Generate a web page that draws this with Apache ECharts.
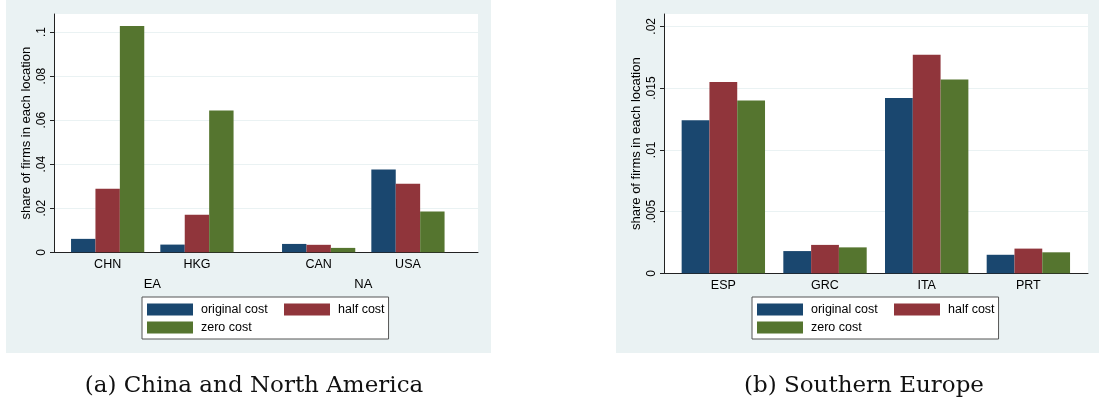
<!DOCTYPE html>
<html>
<head>
<meta charset="utf-8">
<script src="https://cdn.jsdelivr.net/npm/echarts@6/dist/echarts.min.js"></script>
<style>
  html, body { margin: 0; padding: 0; background: #fff; }
  #container { width: 1099px; height: 403px; }
</style>
</head>
<body>
<div id="container"></div>
<script>
// panel (a): East Asia + North America
let eaCats = ['CHN', 'HKG'];
let naCats = ['CAN', 'USA'];
let eaOriginal = [0.0061, 0.0035];
let eaHalf = [0.0288, 0.0171];
let eaZero = [0.1028, 0.0644];
let naOriginal = [0.0038, 0.0376];
let naHalf = [0.0034, 0.0311];
let naZero = [0.0020, 0.0185];
let leftTicks = [0, 0.02, 0.04, 0.06, 0.08, 0.1];

// panel (b): Southern Europe
let seCats = ['ESP', 'GRC', 'ITA', 'PRT'];
let seOriginal = [0.0124, 0.0018, 0.0142, 0.0015];
let seHalf = [0.0155, 0.0023, 0.0177, 0.0020];
let seZero = [0.0140, 0.0021, 0.0157, 0.0017];
let rightTicks = [0, 0.005, 0.01, 0.015, 0.02];

let seriesNames = ['original cost', 'half cost', 'zero cost'];
let colors = ['#1a476f', '#90353b', '#55752f'];

let FONT = 'Liberation Sans, Arial, sans-serif';
let BG = '#eaf2f3';

function tickText(v) {
    return v === 0 ? '0' : String(v).replace(/^0/, '');
}

// frame: white plot area, y axis, gridlines, x axis line
function frameAxes(gridIndex, max, ticks) {
    let x = {
        type: 'category', gridIndex: gridIndex, data: [''],
        axisLine: { show: true, lineStyle: { color: '#222', width: 1 } },
        axisTick: { show: false }, axisLabel: { show: false }, splitLine: { show: false }
    };
    let y = {
        type: 'value', gridIndex: gridIndex, min: 0, max: max,
        name: 'share of firms in each location',
        nameLocation: 'middle', nameGap: 21,
        nameTextStyle: { fontFamily: FONT, fontSize: 13, color: '#000' },
        axisLine: { show: true, lineStyle: { color: '#222', width: 1 } },
        axisTick: { show: true, length: 4, customValues: ticks, lineStyle: { color: '#222' } },
        axisLabel: {
            rotate: 90, margin: 6, customValues: ticks,
            fontFamily: FONT, fontSize: 12, color: '#000',
            formatter: tickText
        },
        splitLine: { show: true, lineStyle: { color: BG, width: 1 } }
    };
    return [x, y];
}

function barAxes(gridIndex, cats, max, groupName) {
    let x = {
        type: 'category', gridIndex: gridIndex, data: cats,
        axisLine: { show: false }, axisTick: { show: false },
        axisLabel: { margin: 6, fontFamily: FONT, fontSize: 12.5, color: '#000' },
        name: groupName || '', nameLocation: 'middle', nameGap: 26,
        nameTextStyle: { fontFamily: FONT, fontSize: 13, color: '#000' }
    };
    let y = {
        type: 'value', gridIndex: gridIndex, min: 0, max: max, show: false,
        splitLine: { show: false }
    };
    return [x, y];
}

function barSeries(axisIndex, valueSets) {
    return valueSets.map(function (vals, i) {
        return {
            name: seriesNames[i], type: 'bar',
            xAxisIndex: axisIndex, yAxisIndex: axisIndex,
            data: vals,
            barGap: '0%', barCategoryGap: '18%',
            itemStyle: { color: colors[i] }
        };
    });
}

function legendAt(left, top) {
    return {
        left: left, top: top, width: 245,
        orient: 'horizontal',
        itemWidth: 46, itemHeight: 12, itemGap: 5,
        padding: [6, 4, 5, 5],
        backgroundColor: '#fff', borderColor: '#555', borderWidth: 1, borderRadius: 0,
        icon: 'rect',
        textStyle: { fontFamily: FONT, fontSize: 12.5, color: '#000', lineHeight: 12, padding: [0, 0, 0, 3] },
        data: [
            { name: seriesNames[0], textStyle: { width: 78 } },
            { name: seriesNames[1] },
            { name: seriesNames[2] }
        ],
        selectedMode: false
    };
}

let leftMax = 0.1082;
let rightMax = 0.0210;

let fa = frameAxes(0, leftMax, leftTicks);
let ea = barAxes(1, eaCats, leftMax, 'EA');
let na = barAxes(2, naCats, leftMax, 'NA');
let fb = frameAxes(3, rightMax, rightTicks);
let se = barAxes(4, seCats, rightMax, '');

let option = {
    animation: false,
    graphic: [
        { type: 'rect', z: -10, silent: true, shape: { x: 6, y: 0, width: 485, height: 353 }, style: { fill: BG } },
        { type: 'rect', z: -10, silent: true, shape: { x: 616, y: 0, width: 483, height: 353 }, style: { fill: BG } }
    ],
    title: [
        { text: '(a) China and North America', left: 249, top: 370, textAlign: 'center',
          textStyle: { fontFamily: 'DejaVu Serif', fontWeight: 'normal', fontSize: 23, color: '#111' } },
        { text: '(b) Southern Europe', left: 859, top: 370, textAlign: 'center',
          textStyle: { fontFamily: 'DejaVu Serif', fontWeight: 'normal', fontSize: 23, color: '#111' } }
    ],
    legend: [legendAt(142, 297), legendAt(752, 297)],
    grid: [
        { left: 54, top: 14, width: 424, height: 238.3, show: true, backgroundColor: '#fff', borderWidth: 0 },
        { left: 63, top: 14, width: 178.6, height: 238.3 },
        { left: 274, top: 14, width: 178.6, height: 238.3 },
        { left: 664, top: 14, width: 424, height: 259.3, show: true, backgroundColor: '#fff', borderWidth: 0 },
        { left: 672.5, top: 14, width: 406.7, height: 259.3 }
    ],
    xAxis: [fa[0], ea[0], na[0], fb[0], se[0]],
    yAxis: [fa[1], ea[1], na[1], fb[1], se[1]],
    series: []
        .concat(barSeries(1, [eaOriginal, eaHalf, eaZero]))
        .concat(barSeries(2, [naOriginal, naHalf, naZero]))
        .concat(barSeries(4, [seOriginal, seHalf, seZero]))
};

let myChart = echarts.init(document.getElementById('container'), null, { renderer: 'canvas' });
myChart.setOption(option);
</script>
</body>
</html>
